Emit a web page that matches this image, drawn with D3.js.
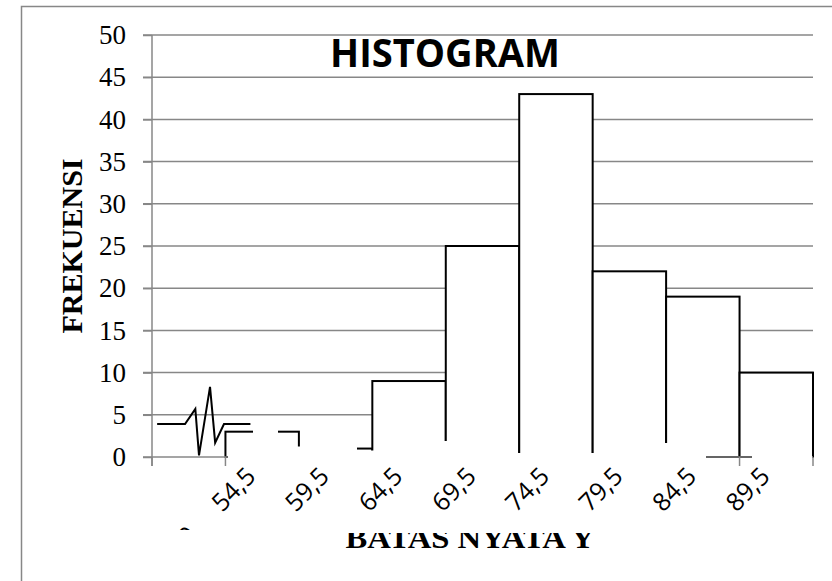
<!DOCTYPE html>
<html><head><meta charset="utf-8">
<script src="https://cdn.jsdelivr.net/npm/d3@7"></script>
<style>html,body{margin:0;padding:0;background:#fff;} svg{display:block}</style>
</head><body>
<svg id="chart" width="832" height="581"></svg>
<script>
// ---- data ----
const categories = ["0","54,5","59,5","64,5","69,5","74,5","79,5","84,5","89,5"];
const frequencies = [4,3,1,9,25,43,22,19,10];
const yTicks = [0,5,10,15,20,25,30,35,40,45,50];
// zigzag "break" mark drawn for the first class: [fraction of class width, frequency]
const breakMark = [[0.07,3.9],[0.45,3.9],[0.59,5.7],[0.64,0.2],[0.79,8.3],[0.86,1.7],[0.98,3.9],[1.34,3.9]];
const chartTitle = "HISTOGRAM";
const xTitle = "BATAS NYATA Y";
const yTitle = "FREKUENSI";

// ---- layout ----
const svg = d3.select("#chart");
const plot = {left:152, right:813, top:35, bottom:457};
const x = d3.scaleBand().domain(categories).range([plot.left, plot.right]).padding(0);
const y = d3.scaleLinear().domain([0,50]).range([plot.bottom, plot.top]);
const bw = x.bandwidth();
const gridColor = "#878787";

// outer frame
svg.append("rect").attr("x",21.5).attr("y",6.5).attr("width",840).attr("height",620)
  .attr("fill","none").attr("stroke",gridColor).attr("stroke-width",1.5);

// gridlines
svg.append("g").selectAll("line").data(yTicks.filter(d=>d>0)).join("line")
  .attr("x1",plot.left-9).attr("x2",plot.right)
  .attr("y1",d=>y(d)).attr("y2",d=>y(d))
  .attr("stroke",gridColor).attr("stroke-width",1.5);

// bars (first class is shown as a break mark instead)
const barData = categories.map((c,i)=>({c, v:frequencies[i], i})).filter(d=>d.i>0);
svg.append("g").selectAll("rect").data(barData).join("rect")
  .attr("x",d=>x(d.c)).attr("y",d=>y(d.v))
  .attr("width",bw).attr("height",d=>y(0)-y(d.v))
  .attr("fill","#fff").attr("stroke","#000").attr("stroke-width",2);

// break mark
const line = d3.line().x(d=>x(categories[0])+d[0]*bw).y(d=>y(d[1]));
svg.append("path").datum(breakMark).attr("d",line)
  .attr("fill","none").attr("stroke","#000").attr("stroke-width",2);

// x axis line + boundary ticks
const axG = svg.append("g").attr("stroke",gridColor).attr("stroke-width",1.5);
axG.append("line").attr("x1",plot.left-9).attr("x2",plot.right).attr("y1",y(0)).attr("y2",y(0));
const bounds = categories.map(c=>x(c)).concat([x.range()[1]]);
axG.selectAll(".tk").data(bounds).join("line").attr("class","tk")
  .attr("x1",d=>d).attr("x2",d=>d).attr("y1",y(0)).attr("y2",y(0)+9);

// y axis
const yAxis = d3.axisLeft(y).tickValues(yTicks).tickSize(9).tickSizeOuter(0).tickPadding(17);
const yg = svg.append("g").attr("transform",`translate(${plot.left},0)`).call(yAxis);
yg.select(".domain").attr("stroke",gridColor).attr("stroke-width",1.5)
  .attr("d",`M0,${plot.top}V${y(0)+9}`);
yg.selectAll(".tick line").attr("stroke",gridColor).attr("stroke-width",1.5);
yg.selectAll(".tick text").attr("font-family","'Liberation Serif', serif")
  .attr("font-size",27).attr("fill","#000");

// white cover shapes over the lower part of the chart (as in the source picture)
const covers = [
  [253,428,25,12],[228,446.5,129,100],[357,450.5,17,100],[374,441,143,110],
  [517,453,83,100],[600,443,106,110],[706,468,46,80],[752,456,60,100]
];
svg.append("g").selectAll("rect").data(covers).join("rect")
  .attr("x",d=>d[0]).attr("y",d=>d[1]).attr("width",d=>d[2]).attr("height",d=>d[3])
  .attr("fill","#fff");

// x tick labels
const lblFont = "'Open Sans', sans-serif";
svg.append("g").selectAll("text").data(categories.slice(1)).join("text")
  .attr("transform",d=>`translate(${x(d)+bw/2-5},478) rotate(-45)`)
  .attr("text-anchor","end").attr("font-family",lblFont).attr("font-size",25)
  .attr("fill","#000").text(d=>d);
// first label is mostly hidden in the source: only its top edge shows
svg.append("clipPath").attr("id","c0").attr("clipPathUnits","userSpaceOnUse")
  .append("rect").attr("x",150).attr("y",500).attr("width",80).attr("height",30);
svg.append("g").attr("clip-path","url(#c0)").append("text")
  .attr("transform",`translate(${x(categories[0])+bw/2+10},537) rotate(-45)`)
  .attr("text-anchor","end").attr("font-family",lblFont).attr("font-size",25)
  .attr("fill","#000").text(categories[0]);

// titles
svg.append("text").attr("x",445).attr("y",67).attr("text-anchor","middle")
  .attr("font-family","'Open Sans', sans-serif").attr("font-weight","bold").attr("font-size",39)
  .attr("textLength",230).attr("lengthAdjust","spacingAndGlyphs").attr("fill","#000").text(chartTitle);

svg.append("text").attr("transform","translate(82,246) rotate(-90)").attr("text-anchor","middle")
  .attr("font-family","'Liberation Serif', serif").attr("font-weight","bold").attr("font-size",30)
  .attr("fill","#000").text(yTitle);

svg.append("text").attr("x",470).attr("y",548).attr("text-anchor","middle")
  .attr("font-family","'Liberation Serif', serif").attr("font-weight","bold").attr("font-size",30)
  .attr("textLength",249).attr("lengthAdjust","spacingAndGlyphs")
  .attr("fill","#000").text(xTitle);
svg.append("rect").attr("x",330).attr("y",512).attr("width",280).attr("height",21).attr("fill","#fff");
</script>
</body></html>
